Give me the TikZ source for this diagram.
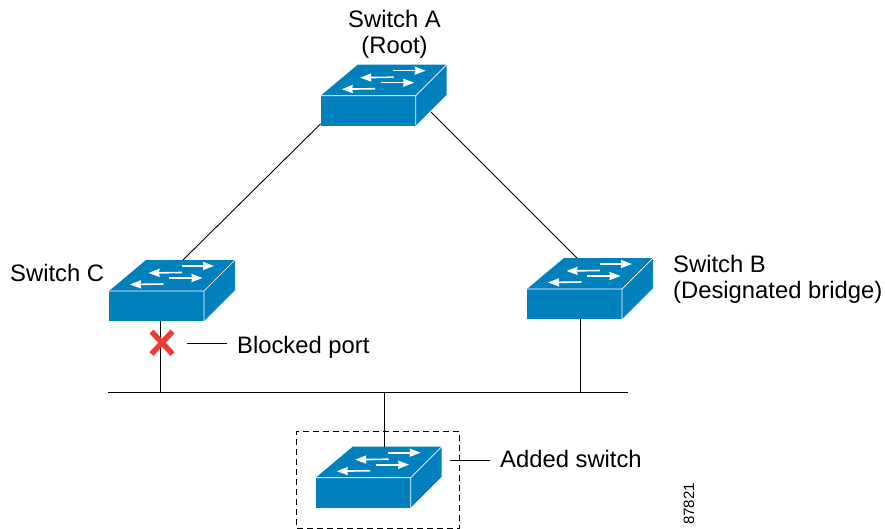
\documentclass[tikz,border=0pt]{standalone}
\usepackage{fontspec}
\setmainfont{Liberation Sans}
\usetikzlibrary{arrows.meta}
\definecolor{swblue}{HTML}{0080BC}
\definecolor{xred}{HTML}{EE3B33}
\tikzset{
  x=1pt,y=-1pt,
  wire/.style={draw=black,line width=0.9pt},
  swfront/.style={rectangle,inner sep=0pt,minimum width=95pt,minimum height=30pt,fill=swblue},
  swedge/.style={draw=white,line width=0.7pt},
  swarrow/.style={draw=white,line width=1.6pt,-{Stealth[length=11pt,width=8pt,inset=0.5pt]}},
  lbl/.style={inner sep=0pt,font=\fontsize{23.8}{26.5}\selectfont},
  dashbox/.style={draw=black,line width=0.9pt,dash pattern=on 6pt off 4pt,inner sep=0pt,minimum width=162.5pt,minimum height=97pt},
  crossmark/.style={inner sep=0pt,minimum size=1pt}
}
% name, front top-left x, y
\newcommand{\swunit}[3]{%
  \begin{scope}[shift={(#2,#3)}]
    \fill[swblue] (0,0) -- (37,-31) -- (126,-31) -- (95,0) -- cycle;
    \fill[swblue] (95,0) -- (126,-31) -- (126,-1) -- (95,30) -- cycle;
    \node[swfront] (#1) at (47.5,15) {};
    \draw[swedge] (0,0) -- (95,0) -- (126,-31) (95,0) -- (95,30);
    \draw[swarrow] (72.5,-25) -- (105,-25);
    \draw[swarrow] (73,-18.5) -- (39.5,-18);
    \draw[swarrow] (60,-13) -- (93.5,-13);
    \draw[swarrow] (54.5,-7) -- (21,-6.5);
  \end{scope}}
\begin{document}
\begin{tikzpicture}
\useasboundingbox (0,0) rectangle (885,529);
\swunit{a}{320.7}{95.7}
\swunit{c}{109}{291}
\swunit{b}{527}{289}
\swunit{d}{315.7}{477.7}
\coordinate (aL) at (320.5,124);
\coordinate (aR) at (431,112);
\coordinate (cT) at (183,260);
\coordinate (bT) at (577,258);
\coordinate (busL) at (108,392.5);
\coordinate (busR) at (628,392.5);
\coordinate (busC) at (160.5,392.5);
\coordinate (busB) at (580.5,392.5);
\coordinate (busD) at (384.5,392.5);
\coordinate (cB) at (160.5,321);
\coordinate (bB) at (580.5,319);
\coordinate (dT) at (384.5,447);
\coordinate (lpS) at (187,343);
\coordinate (lpE) at (227,343);
\coordinate (ldS) at (450,460.7);
\coordinate (ldE) at (490,460.7);
\draw[wire] (aL) -- (cT);
\draw[wire] (aR) -- (bT);
\draw[wire] (busL) -- (busR);
\draw[wire] (cB) -- (busC);
\draw[wire] (bB) -- (busB);
\draw[wire] (busD) -- (dT);
\node[dashbox] (box) at (378,479.8) {};
\node[crossmark] (x) at (162,342.5) {};
\draw[xred,line width=5.5pt] (151.5,331.5) -- (172.5,354) (172.5,331.5) -- (151.5,354);
\node[lbl,align=center] (lA) at (394.5,34.5) {Switch A\\(Root)};
\node[lbl,anchor=base west] (lC) at (10,281) {Switch C};
\node[lbl,align=left,anchor=west] (lB) at (673,279.5) {Switch B\\(Designated bridge)};
\node[lbl,anchor=base west] (lP) at (237,353) {Blocked port};
\node[lbl,anchor=base west] (lD) at (500,467) {Added switch};
\node[inner sep=0pt,rotate=90,font=\fontsize{15}{18}\selectfont] (num) at (689,504) {87821};
\draw[wire] (lpS) -- (lpE);
\draw[wire] (ldS) -- (ldE);
\end{tikzpicture}
\end{document}
